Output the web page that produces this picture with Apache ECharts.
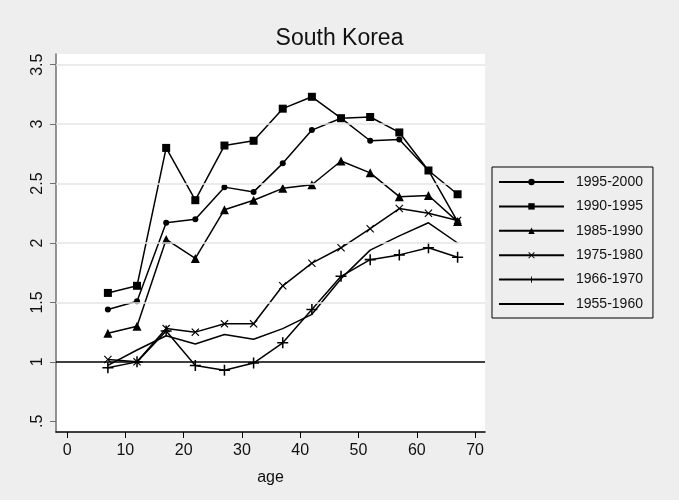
<!DOCTYPE html>
<html>
<head>
<meta charset="utf-8">
<script src="https://cdn.jsdelivr.net/npm/echarts@6/dist/echarts.min.js"></script>
<style>
  html, body { margin: 0; padding: 0; background: #eeeeee; }
  #chart { width: 679px; height: 500px; }
</style>
</head>
<body>
<div id="chart"></div>
<script>
// Ages at which each cohort profile is measured
const ages = [7, 12, 17, 22, 27, 32, 37, 42, 47, 52, 57, 62, 67];

// Profiles by period
const s1995_2000 = [1.44, 1.51, 2.17, 2.20, 2.47, 2.43, 2.67, 2.95, 3.05, 2.86, 2.87, 2.61, 2.18];
const s1990_1995 = [1.58, 1.64, 2.80, 2.36, 2.82, 2.86, 3.13, 3.23, 3.05, 3.06, 2.93, 2.61, 2.41];
const s1985_1990 = [1.24, 1.30, 2.03, 1.87, 2.28, 2.36, 2.46, 2.49, 2.69, 2.59, 2.39, 2.40, 2.18];
const s1975_1980 = [1.02, 1.00, 1.28, 1.25, 1.32, 1.32, 1.64, 1.83, 1.96, 2.12, 2.29, 2.25, 2.19];
const s1966_1970 = [0.95, 1.00, 1.26, 0.97, 0.93, 0.99, 1.16, 1.44, 1.72, 1.86, 1.90, 1.96, 1.88];
const s1955_1960 = [0.97, 1.10, 1.22, 1.15, 1.23, 1.19, 1.28, 1.40, 1.70, 1.94, 2.06, 2.17, 2.00];

const seriesNames = ['1995-2000', '1990-1995', '1985-1990', '1975-1980', '1966-1970', '1955-1960'];
const seriesValues = [s1995_2000, s1990_1995, s1985_1990, s1975_1980, s1966_1970, s1955_1960];

// Axis ticks
const xTicks = [0, 10, 20, 30, 40, 50, 60, 70];
const yTicks = [0.5, 1, 1.5, 2, 2.5, 3, 3.5];
const yTickLabels = ['.5', '1', '1.5', '2', '2.5', '3', '3.5'];
const gridValues = [1.5, 2, 2.5, 3, 3.5];
const refValue = 1;

const plusPath = 'path://M4.3,0H5.7V4.3H10V5.7H5.7V10H4.3V5.7H0V4.3H4.3Z';
const crossPath = 'path://M0,1L1,0L5,4L9,0L10,1L6,5L10,9L9,10L5,6L1,10L0,9L4,5Z';
const markerStyles = [
  { symbol: 'circle', symbolSize: 6 },
  { symbol: 'rect', symbolSize: 8 },
  { symbol: 'triangle', symbolSize: 9 },
  { symbol: crossPath, symbolSize: 8 },
  { symbol: plusPath, symbolSize: 11 },
  { symbol: 'none', symbolSize: 0 }
];

const font = 'Liberation Sans, Arial, sans-serif';

const series = seriesNames.map((name, i) => ({
  name: name,
  type: 'line',
  data: ages.map((a, j) => [a, seriesValues[i][j]]),
  symbol: markerStyles[i].symbol,
  symbolSize: markerStyles[i].symbolSize,
  showSymbol: markerStyles[i].symbol !== 'none',
  symbolKeepAspect: true,
  lineStyle: { color: '#000', width: 1.5 },
  itemStyle: { color: '#000', borderWidth: 0 },
  emphasis: { disabled: true },
  animation: false,
  z: 3
}));

// Light horizontal grid and the reference line at 1
series.push({
  name: 'grid',
  type: 'line',
  data: [],
  z: 1,
  animation: false,
  markLine: {
    silent: true,
    symbol: 'none',
    label: { show: false },
    animation: false,
    lineStyle: { color: '#e4e4e4', width: 1.5, type: 'solid' },
    data: gridValues.map(v => ({ yAxis: v }))
  }
});
series.push({
  name: 'ref',
  type: 'line',
  data: [],
  z: 2,
  animation: false,
  markLine: {
    silent: true,
    symbol: 'none',
    label: { show: false },
    animation: false,
    lineStyle: { color: '#000', width: 1.5, type: 'solid' },
    data: [{ yAxis: refValue }]
  }
});

// Legend entries: the unmarked series shows its line only
const legendData = seriesNames.map((name, i) =>
  markerStyles[i].symbol === 'none' ? { name: name, itemStyle: { opacity: 0 } } : { name: name }
);

const chart = echarts.init(document.getElementById('chart'), null, { renderer: 'canvas' });
chart.setOption({
  backgroundColor: '#eeeeee',
  animation: false,
  title: {
    text: 'South Korea',
    left: 'center',
    top: 27,
    padding: 0,
    textStyle: { fontFamily: font, fontSize: 23, fontWeight: 'normal', color: '#111' }
  },
  grid: {
    left: 56, right: 194, top: 54, bottom: 68,
    show: true, backgroundColor: '#ffffff', borderWidth: 0
  },
  legend: {
    data: legendData,
    orient: 'vertical',
    left: 492,
    top: 167,
    itemWidth: 65,
    itemHeight: 8,
    itemGap: 10.4,
    padding: [8, 10, 7, 6],
    borderColor: '#000',
    borderWidth: 1,
    backgroundColor: '#eeeeee',
    selectedMode: false,
    textStyle: { fontFamily: font, fontSize: 14, color: '#111', lineHeight: 14, padding: [0, 0, 0, 7] }
  },
  xAxis: {
    type: 'value',
    min: -1.9,
    max: 71.7,
    name: 'age',
    nameLocation: 'middle',
    nameGap: 38,
    nameTextStyle: { fontFamily: font, fontSize: 16, color: '#111' },
    axisLine: { show: true, onZero: false, lineStyle: { color: '#000', width: 1.5 } },
    axisTick: { show: true, length: 6, customValues: xTicks, lineStyle: { color: '#000', width: 1 } },
    axisLabel: { customValues: xTicks, margin: 11, fontFamily: font, fontSize: 16, color: '#111' },
    splitLine: { show: false }
  },
  yAxis: {
    type: 'value',
    min: 0.41,
    max: 3.59,
    axisLine: { show: true, onZero: false, lineStyle: { color: '#707070', width: 1.5 } },
    axisTick: { show: true, length: 6, customValues: yTicks, lineStyle: { color: '#707070', width: 1 } },
    axisLabel: {
      customValues: yTicks,
      rotate: 90,
      margin: 10,
      fontFamily: font, fontSize: 16, color: '#111',
      formatter: v => {
        const k = yTicks.findIndex(t => Math.abs(t - v) < 1e-9);
        return k >= 0 ? yTickLabels[k] : '';
      }
    },
    splitLine: { show: false }
  },
  series: series
});
</script>
</body>
</html>
